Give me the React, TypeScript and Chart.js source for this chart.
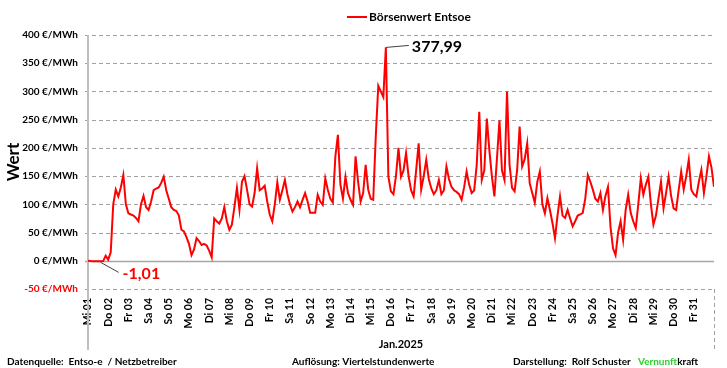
import React, { useEffect, useRef } from "react";
import { Chart, registerables } from "chart.js";

Chart.register(...registerables);

const dayLabels = [
  "Mi 01", "Do 02", "Fr 03", "Sa 04", "So 05", "Mo 06", "Di 07", "Mi 08", "Do 09", "Fr 10",
  "Sa 11", "So 12", "Mo 13", "Di 14", "Mi 15", "Do 16", "Fr 17", "Sa 18", "So 19", "Mo 20",
  "Di 21", "Mi 22", "Do 23", "Fr 24", "Sa 25", "So 26", "Mo 27", "Di 28", "Mi 29", "Do 30", "Fr 31",
];

// three-hourly readings (8 per day), Jan 2025, €/MWh
const prices = [
  0, -0.5, -0.8, -0.9, -1, -1.01, -0.5, 9,
  2, 15, 100, 126, 114, 130, 152, 100,
  84, 82, 80, 76, 70, 100, 115, 95,
  90, 105, 125, 128, 130, 138, 149, 125,
  110, 95, 90, 88, 80, 55, 52, 42,
  30, 10, 20, 40, 35, 28, 30, 27,
  18, 6, 75, 70, 66, 75, 95, 70,
  55, 64, 95, 129, 90, 140, 150, 126,
  100, 96, 120, 164, 125, 128, 133, 105,
  82, 70, 100, 139, 108, 125, 143, 118,
  100, 87, 95, 105, 95, 108, 120, 105,
  85, 85, 85, 117, 105, 99, 146, 126,
  110, 103, 185, 223, 135, 110, 149, 120,
  108, 99, 185, 140, 105, 120, 170, 126,
  110, 108, 220, 310, 300, 290, 377.99, 149,
  123, 118, 150, 200, 149, 160, 191, 150,
  125, 114, 160, 208, 126, 150, 179, 145,
  128, 118, 125, 143, 118, 125, 167, 145,
  131, 125, 122, 118, 108, 130, 158, 135,
  120, 125, 170, 264, 143, 160, 252, 196,
  150, 114, 180, 249, 160, 143, 300, 170,
  129, 123, 160, 238, 167, 180, 208, 137,
  120, 103, 140, 158, 100, 84, 111, 90,
  67, 40, 80, 114, 80, 76, 90, 75,
  61, 70, 80, 82, 85, 110, 152, 140,
  126, 110, 105, 120, 90, 115, 131, 60,
  22, 10, 50, 70, 37, 90, 117, 85,
  70, 58, 100, 146, 117, 135, 149, 100,
  64, 80, 110, 140, 93, 120, 149, 115,
  93, 90, 125, 158, 126, 150, 179, 126,
  118, 114, 140, 161, 120, 150, 185, 165,
  131,
];

const yTicks = [-50, 0, 50, 100, 150, 200, 250, 300, 350, 400];
const seriesName = "Börsenwert Entsoe";
const monthLabel = "Jan.2025";
const stepsPerDay = 8;

const FONT = "Lato, 'Liberation Sans', sans-serif";
const RED = "#ff0000";

export default function App() {
  const ref = useRef<HTMLCanvasElement | null>(null);

  useEffect(() => {
    document.body.style.margin = "0";
    const canvas = ref.current;
    if (!canvas) return;

    const points = prices.map((v, i) => ({ x: i / stepsPerDay, y: v }));

    const decor = {
      id: "decor",
      beforeDatasetsDraw(chart: any) {
        const { ctx, chartArea } = chart;
        const ys = chart.scales.y;
        ctx.save();
        yTicks.forEach((t) => {
          const py = Math.round(ys.getPixelForValue(t)) + 0.5;
          ctx.beginPath();
          if (t === 0) {
            ctx.setLineDash([]);
            ctx.strokeStyle = "#a6a6a6";
            ctx.lineWidth = 1.5;
          } else {
            ctx.setLineDash([4, 3]);
            ctx.strokeStyle = "#a0a0a0";
            ctx.lineWidth = 1;
          }
          ctx.moveTo(chartArea.left - 3, py);
          ctx.lineTo(chartArea.right, py);
          ctx.stroke();
        });
        ctx.setLineDash([]);
        ctx.strokeStyle = "#bfbfbf";
        ctx.lineWidth = 2;
        ctx.beginPath();
        ctx.moveTo(chartArea.left, chartArea.top);
        ctx.lineTo(chartArea.left, 350);
        ctx.stroke();
        ctx.setLineDash([4, 3]);
        ctx.strokeStyle = "#a0a0a0";
        ctx.lineWidth = 1;
        ctx.beginPath();
        ctx.moveTo(chartArea.right + 0.5, chartArea.bottom);
        ctx.lineTo(chartArea.right + 0.5, 350);
        ctx.stroke();
        ctx.restore();
      },
      afterDatasetsDraw(chart: any) {
        const { ctx } = chart;
        const xs = chart.scales.x;
        const ys = chart.scales.y;
        let iMax = 0;
        let iMin = 0;
        prices.forEach((v, i) => {
          if (v > prices[iMax]) iMax = i;
          if (v < prices[iMin]) iMin = i;
        });
        const fmt = (v: number) => v.toFixed(2).replace(".", ",");
        ctx.save();
        const mx = xs.getPixelForValue(points[iMax].x);
        const my = ys.getPixelForValue(points[iMax].y);
        ctx.strokeStyle = "#404040";
        ctx.lineWidth = 1;
        ctx.beginPath();
        ctx.moveTo(mx, my);
        ctx.lineTo(mx + 23, my - 2);
        ctx.stroke();
        ctx.font = `bold 16px ${FONT}`;
        ctx.fillStyle = "#000";
        ctx.textBaseline = "middle";
        ctx.textAlign = "left";
        ctx.fillText(fmt(prices[iMax]), mx + 26, my - 1);
        const nx = xs.getPixelForValue(points[iMin].x);
        const ny = ys.getPixelForValue(points[iMin].y);
        ctx.beginPath();
        ctx.moveTo(nx, ny + 1);
        ctx.lineTo(nx + 18, ny + 11);
        ctx.stroke();
        ctx.fillStyle = RED;
        ctx.fillText(fmt(prices[iMin]), nx + 22, ny + 12);
        ctx.restore();
      },
      afterDraw(chart: any) {
        const { ctx, chartArea } = chart;
        ctx.save();
        ctx.strokeStyle = RED;
        ctx.lineWidth = 2;
        ctx.beginPath();
        ctx.moveTo(347, 17);
        ctx.lineTo(367, 17);
        ctx.stroke();
        ctx.font = `bold 12px ${FONT}`;
        ctx.fillStyle = "#000";
        ctx.textBaseline = "middle";
        ctx.textAlign = "left";
        ctx.fillText(seriesName, 369, 17);
        ctx.font = `bold 11px ${FONT}`;
        ctx.textAlign = "center";
        ctx.fillText(monthLabel, (chartArea.left + chartArea.right) / 2, 344);
        ctx.font = `bold 10px ${FONT}`;
        ctx.textAlign = "left";
        ctx.fillText("Datenquelle:  Entso-e  / Netzbetreiber", 7, 362);
        ctx.fillText("Auflösung: Viertelstundenwerte", 292, 362);
        ctx.fillText("Darstellung:  Rolf Schuster", 513, 362);
        ctx.fillStyle = "#33cc33";
        ctx.fillText("Vernunft", 638, 362);
        const w = ctx.measureText("Vernunft").width;
        ctx.fillStyle = "#000";
        ctx.fillText("kraft", 638 + w, 362);
        ctx.restore();
      },
    };

    const chart = new Chart(canvas, {
      type: "line",
      data: {
        datasets: [
          {
            label: seriesName,
            data: points,
            borderColor: RED,
            backgroundColor: RED,
            borderWidth: 2,
            pointRadius: 0,
            tension: 0,
          },
        ],
      },
      options: {
        animation: false,
        responsive: false,
        devicePixelRatio: 1,
        layout: { padding: { top: 35, right: 13, left: 3, bottom: 0 } },
        plugins: {
          legend: { display: false },
          tooltip: { enabled: false },
        },
        scales: {
          x: {
            type: "linear",
            min: 0,
            max: dayLabels.length,
            afterBuildTicks: (s: any) => {
              s.ticks = dayLabels.map((_, i) => ({ value: i }));
            },
            afterFit: (s: any) => {
              s.height = 79;
            },
            ticks: {
              autoSkip: false,
              maxRotation: 90,
              minRotation: 90,
              padding: 9,
              color: "#000",
              font: { family: FONT, weight: "bold", size: 10.5 },
              callback: (v: any) => dayLabels[v as number] ?? "",
            },
            grid: { display: false, drawTicks: false },
            border: { display: false },
          },
          y: {
            min: -50,
            max: 400,
            afterBuildTicks: (s: any) => {
              s.ticks = yTicks.map((v) => ({ value: v }));
            },
            afterFit: (s: any) => {
              s.width = 85;
            },
            ticks: {
              padding: 10,
              color: (c: any) => (c.tick && c.tick.value < 0 ? RED : "#000"),
              font: { family: FONT, weight: "bold", size: 10 },
              callback: (v: any) => `${v} €/MWh`,
            },
            title: {
              display: true,
              text: "Wert",
              color: "#000",
              font: { family: FONT, weight: "bold", size: 17 },
              padding: 0,
            },
            grid: { display: false, drawTicks: false },
            border: { display: false },
          },
        },
      },
      plugins: [decor],
    });

    return () => chart.destroy();
  }, []);

  return (
    <canvas ref={ref} width={727} height={368} style={{ display: "block", width: 727, height: 368 }} />
  );
}
